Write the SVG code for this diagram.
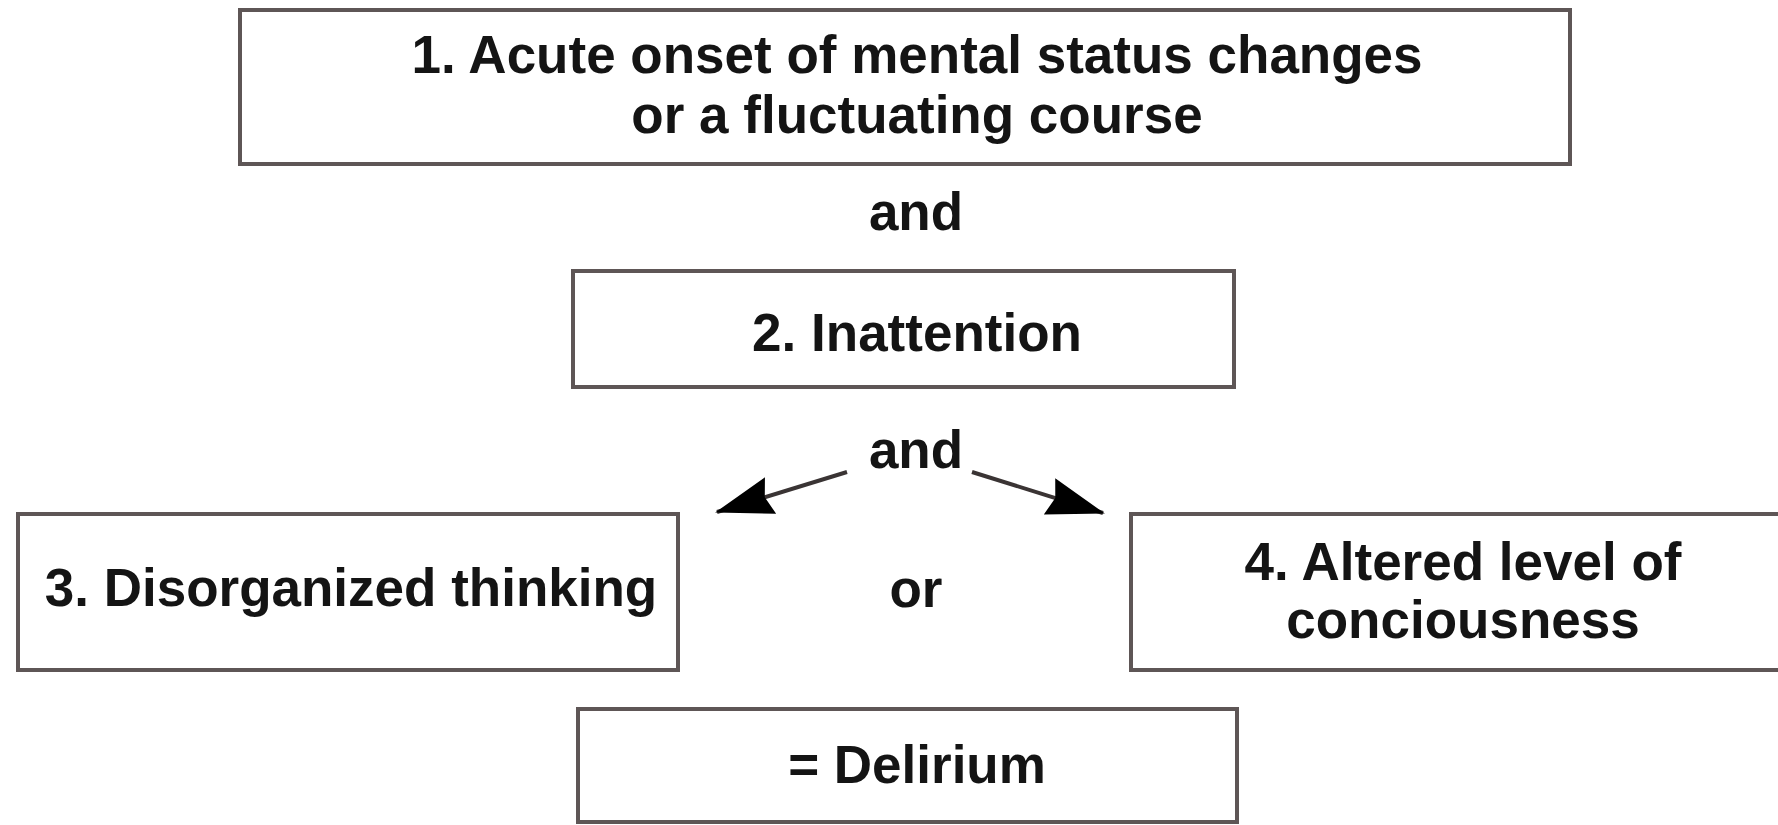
<svg xmlns="http://www.w3.org/2000/svg" width="1778" height="825" viewBox="0 0 1778 825">
<style>
.box{fill:#fff;stroke:#5e5656;stroke-width:4}
.t{font-family:"Liberation Sans",Arial,sans-serif;font-weight:bold;font-size:53px;fill:#141414;text-anchor:middle}
.c{stroke:#3a3434;stroke-width:4;fill:none}
</style>
<defs>
<marker id="ah" viewBox="0 0 58 38" refX="56" refY="19" markerWidth="58" markerHeight="38" markerUnits="userSpaceOnUse" orient="auto">
<path d="M0,0 L58,19 L0,38 L6,19 z" fill="#000"/>
</marker>
</defs>
<rect width="1778" height="825" fill="#fff"/>
<g id="node1">
<rect class="box" x="240" y="10" width="1330" height="154"/>
<text class="t" x="917" y="73">1. Acute onset of mental status changes</text>
<text class="t" x="917" y="133">or a fluctuating course</text>
</g>
<g id="label-and1"><text class="t" x="916" y="230">and</text></g>
<g id="node2">
<rect class="box" x="573" y="271" width="661" height="116"/>
<text class="t" x="917" y="351">2. Inattention</text>
</g>
<g id="label-and2"><text class="t" x="916" y="468">and</text></g>
<g id="node3">
<rect class="box" x="18" y="514" width="660" height="156"/>
<text class="t" x="351" y="606">3. Disorganized thinking</text>
</g>
<g id="label-or"><text class="t" x="916" y="607">or</text></g>
<g id="node4">
<rect class="box" x="1131" y="514" width="660" height="156"/>
<text class="t" x="1463" y="580">4. Altered level of</text>
<text class="t" x="1463" y="638">conciousness</text>
</g>
<g id="node5">
<rect class="box" x="578" y="709" width="659" height="113"/>
<text class="t" x="917" y="783">= Delirium</text>
</g>
<g id="connectors">
<line class="c" x1="847" y1="472" x2="717" y2="512" marker-end="url(#ah)"/>
<line class="c" x1="972" y1="472" x2="1103" y2="513" marker-end="url(#ah)"/>
</g>
</svg>
